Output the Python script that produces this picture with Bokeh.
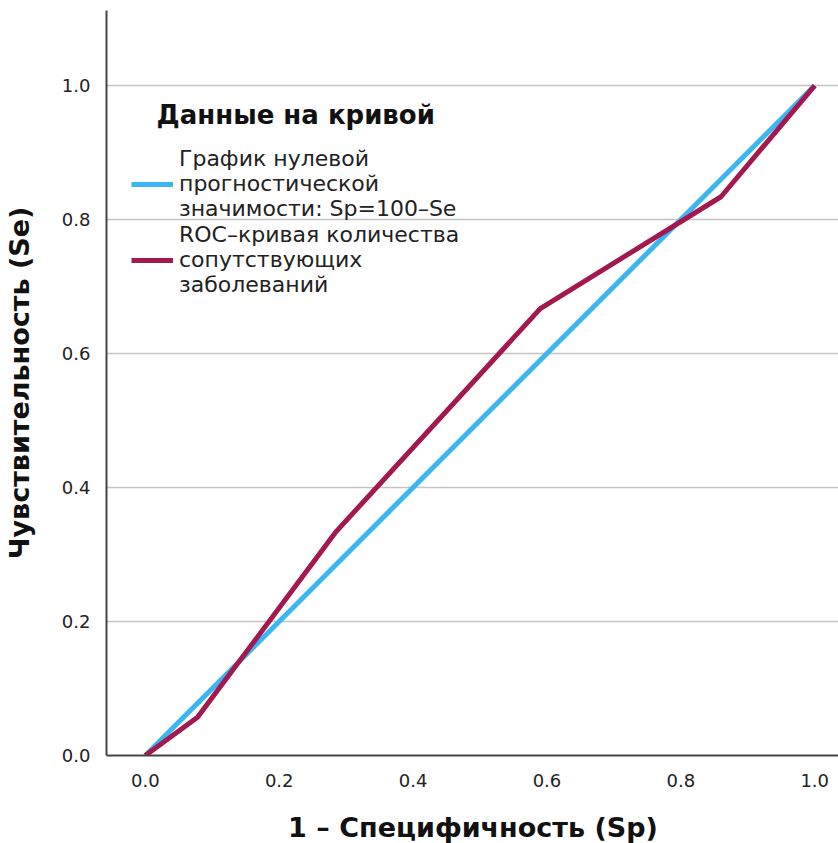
from bokeh.plotting import figure
from bokeh.models import Range1d, Legend, LegendItem, Label, FixedTicker, NumeralTickFormatter
from bokeh.embed import file_html
from bokeh.resources import INLINE

# data
ref_x = [0.0, 1.0]
ref_y = [0.0, 1.0]
roc_x = [0.0, 0.078, 0.284, 0.590, 0.860, 1.0]
roc_y = [0.0, 0.057, 0.333, 0.667, 0.834, 1.0]
ticks = [0.0, 0.2, 0.4, 0.6, 0.8, 1.0]
label_ref = "График нулевой\nпрогностической\nзначимости: Sp=100–Se"
label_roc = "ROC–кривая количества\nсопутствующих\nзаболеваний"
legend_title = "Данные на кривой"

FONT = "DejaVu Sans"
BLUE = "#3bb6f4"
MAROON = "#a3184f"

p = figure(width=838, height=843, output_backend="svg", toolbar_location=None,
           x_range=Range1d(-0.058, 1.037), y_range=Range1d(0.0, 1.112),
           min_border_left=105, min_border_top=10, min_border_right=0, min_border_bottom=88)
p.frame_width = 733
p.frame_height = 745
p.outline_line_color = None
p.background_fill_color = "white"
p.border_fill_color = "white"

r1 = p.line(ref_x, ref_y, line_color=BLUE, line_width=5)
r2 = p.line(roc_x, roc_y, line_color=MAROON, line_width=5, line_join="round")

for ax in (p.xaxis[0], p.yaxis[0]):
    ax.ticker = FixedTicker(ticks=ticks)
    ax.formatter = NumeralTickFormatter(format="0.0")
    ax.major_tick_line_color = None
    ax.minor_tick_line_color = None
    ax.axis_line_color = "#444444"
    ax.axis_line_width = 2
    ax.major_label_text_font = FONT
    ax.major_label_text_font_size = "18px"
    ax.major_label_text_color = "#222222"
    ax.axis_label_text_font = FONT
    ax.axis_label_text_font_style = "bold"
    ax.axis_label_text_font_size = "27px"
    ax.axis_label_text_color = "#111111"

p.xaxis.axis_label = "1 – Специфичность (Sp)"
p.yaxis.axis_label = "Чувствительность (Se)"
p.xaxis.major_label_standoff = 12
p.yaxis.major_label_standoff = 10
p.xaxis.axis_label_standoff = 22
p.yaxis.axis_label_standoff = 24

p.xgrid.grid_line_color = None
p.ygrid.ticker = FixedTicker(ticks=ticks)
p.ygrid.grid_line_color = "#c4c4c4"
p.ygrid.grid_line_width = 1.5

legend = Legend(items=[LegendItem(label=label_ref, renderers=[r1]),
                       LegendItem(label=label_roc, renderers=[r2])],
                location=(25, 458), orientation="vertical")
legend.border_line_color = None
legend.background_fill_alpha = 0
legend.padding = 0
legend.margin = 0
legend.spacing = 1
legend.glyph_width = 42
legend.glyph_height = 20
legend.label_standoff = 6
legend.label_text_font = FONT
legend.label_text_font_size = "22px"
legend.label_text_color = "#222222"
legend.label_text_line_height = 1.07
p.add_layout(legend)

title = Label(x=50, y=656, x_units="screen", y_units="screen", text=legend_title,
              text_font=FONT, text_font_style="bold", text_font_size="26px",
              text_color="#111111", text_baseline="top")
p.add_layout(title)

open("out.html", "w").write(file_html(p, INLINE))
